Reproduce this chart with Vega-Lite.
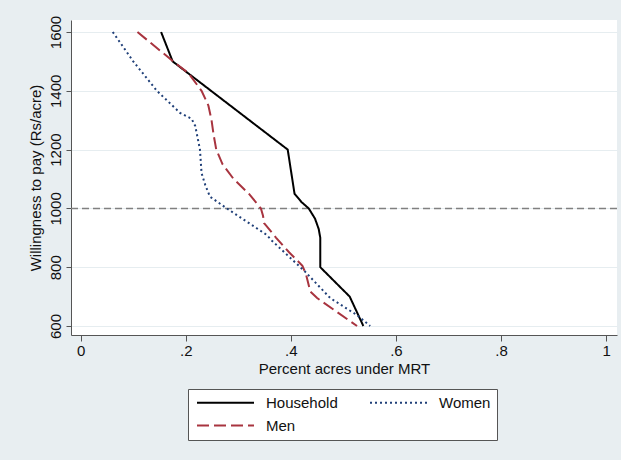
{
  "$schema": "https://vega.github.io/schema/vega-lite/v6.json",
  "width": 546,
  "height": 315,
  "autosize": {"type": "none"},
  "padding": {"left": 71, "top": 20, "right": 4, "bottom": 125},
  "background": "#e8eef1",
  "config": {
    "view": {"fill": "white", "stroke": null},
    "font": "Liberation Sans",
    "axis": {
      "domainColor": "#555555",
      "tickColor": "#555555",
      "labelColor": "#111111",
      "titleColor": "#111111",
      "labelFontSize": 15,
      "titleFontSize": 15,
      "titleFontWeight": "normal"
    }
  },
  "layer": [
    {
      "data": {"values": [{"y": 1000}]},
      "mark": {"type": "rule", "color": "#808080", "strokeWidth": 1.5, "strokeDash": [7, 4]},
      "encoding": {
        "y": {
          "field": "y",
          "type": "quantitative",
          "scale": {"domain": [569.4, 1640.8], "nice": false, "zero": false},
          "axis": {
            "values": [600, 800, 1000, 1200, 1400, 1600],
            "format": "d",
            "title": "Willingness to pay (Rs/acre)",
            "labelAngle": -90,
            "labelAlign": "center",
            "labelBaseline": "alphabetic",
            "labelPadding": 6,
            "tickSize": 5,
            "titlePadding": 5,
            "grid": true,
            "gridColor": "#e6edf0",
            "gridWidth": 1
          }
        }
      }
    },
    {
      "data": {
        "values": [
          {"series": "Household", "x": 0.153, "y": 1600},
          {"series": "Household", "x": 0.175, "y": 1500},
          {"series": "Household", "x": 0.394, "y": 1200},
          {"series": "Household", "x": 0.407, "y": 1050},
          {"series": "Household", "x": 0.420, "y": 1022},
          {"series": "Household", "x": 0.434, "y": 1000},
          {"series": "Household", "x": 0.446, "y": 965},
          {"series": "Household", "x": 0.453, "y": 930},
          {"series": "Household", "x": 0.456, "y": 900},
          {"series": "Household", "x": 0.456, "y": 800},
          {"series": "Household", "x": 0.512, "y": 700},
          {"series": "Household", "x": 0.538, "y": 600},
          {"series": "Men", "x": 0.108, "y": 1600},
          {"series": "Men", "x": 0.176, "y": 1500},
          {"series": "Men", "x": 0.205, "y": 1460},
          {"series": "Men", "x": 0.230, "y": 1400},
          {"series": "Men", "x": 0.243, "y": 1350},
          {"series": "Men", "x": 0.249, "y": 1300},
          {"series": "Men", "x": 0.253, "y": 1250},
          {"series": "Men", "x": 0.258, "y": 1200},
          {"series": "Men", "x": 0.270, "y": 1150},
          {"series": "Men", "x": 0.291, "y": 1100},
          {"series": "Men", "x": 0.320, "y": 1050},
          {"series": "Men", "x": 0.343, "y": 1000},
          {"series": "Men", "x": 0.347, "y": 975},
          {"series": "Men", "x": 0.349, "y": 950},
          {"series": "Men", "x": 0.372, "y": 900},
          {"series": "Men", "x": 0.397, "y": 850},
          {"series": "Men", "x": 0.422, "y": 805},
          {"series": "Men", "x": 0.429, "y": 775},
          {"series": "Men", "x": 0.437, "y": 717},
          {"series": "Men", "x": 0.450, "y": 695},
          {"series": "Men", "x": 0.526, "y": 600},
          {"series": "Women", "x": 0.061, "y": 1600},
          {"series": "Women", "x": 0.100, "y": 1500},
          {"series": "Women", "x": 0.145, "y": 1400},
          {"series": "Women", "x": 0.189, "y": 1325},
          {"series": "Women", "x": 0.211, "y": 1305},
          {"series": "Women", "x": 0.218, "y": 1280},
          {"series": "Women", "x": 0.227, "y": 1200},
          {"series": "Women", "x": 0.230, "y": 1120},
          {"series": "Women", "x": 0.237, "y": 1080},
          {"series": "Women", "x": 0.246, "y": 1040},
          {"series": "Women", "x": 0.278, "y": 1000},
          {"series": "Women", "x": 0.316, "y": 955},
          {"series": "Women", "x": 0.354, "y": 910},
          {"series": "Women", "x": 0.364, "y": 890},
          {"series": "Women", "x": 0.427, "y": 785},
          {"series": "Women", "x": 0.475, "y": 695},
          {"series": "Women", "x": 0.526, "y": 637},
          {"series": "Women", "x": 0.551, "y": 600}
        ]
      },
      "mark": {"type": "line", "strokeWidth": 2},
      "encoding": {
        "x": {
          "field": "x",
          "type": "quantitative",
          "scale": {"domain": [-0.0185, 1.0208], "nice": false, "zero": false},
          "axis": {
            "values": [0, 0.2, 0.4, 0.6, 0.8, 1],
            "labelExpr": "datum.value == 0 ? '0' : datum.value == 1 ? '1' : replace(format(datum.value, '.1f'), '0.', '.')",
            "title": "Percent acres under MRT",
            "grid": false,
            "tickSize": 6,
            "labelPadding": 2,
            "titlePadding": 3
          }
        },
        "y": {
          "field": "y",
          "type": "quantitative",
          "scale": {"domain": [569.4, 1640.8], "nice": false, "zero": false},
          "axis": {
            "values": [600, 800, 1000, 1200, 1400, 1600],
            "format": "d",
            "title": "Willingness to pay (Rs/acre)",
            "labelAngle": -90,
            "labelAlign": "center",
            "labelBaseline": "alphabetic",
            "labelPadding": 6,
            "tickSize": 5,
            "titlePadding": 5,
            "grid": true,
            "gridColor": "#e6edf0",
            "gridWidth": 1
          }
        },
        "color": {
          "field": "series",
          "type": "nominal",
          "scale": {"domain": ["Household", "Women", "Men"], "range": ["#000000", "#1f3f78", "#a8343f"]},
          "legend": {
            "orient": "none",
            "legendX": 117,
            "legendY": 369,
            "direction": "horizontal",
            "columns": 2,
            "title": null,
            "fillColor": "white",
            "strokeColor": "#555555",
            "padding": 6,
            "symbolType": "stroke",
            "symbolSize": 3249,
            "symbolStrokeWidth": 2,
            "symbolOffset": 2,
            "clipHeight": 15,
            "labelFontSize": 15,
            "labelColor": "#111111",
            "labelOffset": 11,
            "columnPadding": 29,
            "rowPadding": 7
          }
        },
        "strokeDash": {
          "field": "series",
          "type": "nominal",
          "scale": {"domain": ["Household", "Women", "Men"], "range": [[1, 0], [2, 3], [12, 5]]},
          "legend": {
            "orient": "none",
            "legendX": 117,
            "legendY": 369,
            "direction": "horizontal",
            "columns": 2,
            "title": null,
            "fillColor": "white",
            "strokeColor": "#555555",
            "padding": 6,
            "symbolType": "stroke",
            "symbolSize": 3249,
            "symbolStrokeWidth": 2,
            "symbolOffset": 2,
            "clipHeight": 15,
            "labelFontSize": 15,
            "labelColor": "#111111",
            "labelOffset": 11,
            "columnPadding": 29,
            "rowPadding": 7
          }
        },
        "order": {"field": "y", "sort": "descending"}
      }
    }
  ]
}
